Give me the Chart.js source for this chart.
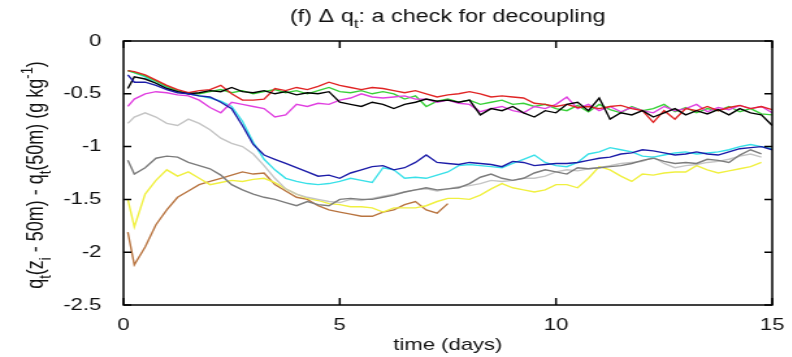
<!DOCTYPE html>
<html>
<head>
<meta charset="utf-8">
<script src="https://cdn.jsdelivr.net/npm/chart.js@4.4.1/dist/chart.umd.min.js"></script>
<style>
  html, body { margin: 0; padding: 0; background: #fff; overflow: hidden; }
  /* the reference is a stretched picture, so the whole chart is widened */
  #wrap { width: 609px; height: 357px; transform: scaleX(1.3); transform-origin: 0 0; }
</style>
</head>
<body>
<div id="wrap"><canvas id="chart" width="609" height="357"></canvas></div>
<script>
// time axis (days) shared by every run
const days = [0.1, 0.25, 0.5, 0.75, 1, 1.25, 1.5, 1.75, 2, 2.25,
    2.5, 2.75, 3, 3.25, 3.5, 3.75, 4, 4.25, 4.5, 4.75,
    5, 5.25, 5.5, 5.75, 6, 6.25, 6.5, 6.75, 7, 7.25,
    7.5, 7.75, 8, 8.25, 8.5, 8.75, 9, 9.25, 9.5, 9.75,
    10, 10.25, 10.5, 10.75, 11, 11.25, 11.5, 11.75, 12, 12.25,
    12.5, 12.75, 13, 13.25, 13.5, 13.75, 14, 14.25, 14.5, 14.75, 15];

const xTicks = [0, 5, 10, 15];
const yTicks = [0, -0.5, -1, -1.5, -2, -2.5];

const red = [-0.28,-0.29,-0.32,-0.37,-0.42,-0.46,-0.49,-0.47,-0.46,-0.42,
    -0.50,-0.56,-0.56,-0.55,-0.45,-0.47,-0.44,-0.46,-0.43,-0.39,
    -0.42,-0.44,-0.46,-0.44,-0.45,-0.47,-0.49,-0.47,-0.50,-0.53,
    -0.51,-0.50,-0.48,-0.50,-0.53,-0.52,-0.53,-0.54,-0.59,-0.60,
    -0.62,-0.60,-0.63,-0.62,-0.64,-0.62,-0.61,-0.64,-0.66,-0.77,
    -0.66,-0.74,-0.64,-0.66,-0.62,-0.66,-0.63,-0.61,-0.64,-0.62,-0.65];
const green = [-0.28,-0.30,-0.33,-0.38,-0.43,-0.47,-0.50,-0.50,-0.48,-0.46,
    -0.49,-0.47,-0.50,-0.48,-0.46,-0.49,-0.47,-0.50,-0.47,-0.44,
    -0.48,-0.49,-0.47,-0.50,-0.48,-0.50,-0.55,-0.52,-0.62,-0.57,
    -0.55,-0.58,-0.56,-0.60,-0.58,-0.56,-0.60,-0.59,-0.62,-0.60,
    -0.64,-0.66,-0.61,-0.67,-0.60,-0.65,-0.68,-0.62,-0.66,-0.64,
    -0.60,-0.67,-0.63,-0.68,-0.64,-0.66,-0.62,-0.67,-0.64,-0.69,-0.70];
const black = [-0.45,-0.34,-0.36,-0.40,-0.45,-0.48,-0.50,-0.49,-0.47,-0.48,
    -0.44,-0.48,-0.49,-0.47,-0.50,-0.48,-0.51,-0.49,-0.50,-0.48,
    -0.58,-0.60,-0.62,-0.58,-0.60,-0.64,-0.60,-0.58,-0.55,-0.57,
    -0.56,-0.58,-0.56,-0.70,-0.64,-0.66,-0.62,-0.68,-0.72,-0.66,
    -0.68,-0.60,-0.58,-0.66,-0.54,-0.74,-0.68,-0.70,-0.66,-0.72,
    -0.68,-0.64,-0.70,-0.66,-0.69,-0.65,-0.70,-0.64,-0.68,-0.70,-0.80];
const magenta = [-0.62,-0.55,-0.50,-0.48,-0.49,-0.51,-0.52,-0.56,-0.63,-0.68,
    -0.58,-0.60,-0.62,-0.64,-0.72,-0.70,-0.60,-0.62,-0.59,-0.60,
    -0.56,-0.54,-0.50,-0.53,-0.54,-0.53,-0.52,-0.55,-0.55,-0.58,
    -0.56,-0.59,-0.60,-0.67,-0.64,-0.62,-0.66,-0.68,-0.62,-0.64,
    -0.60,-0.53,-0.64,-0.60,-0.66,-0.62,-0.67,-0.63,-0.66,-0.68,
    -0.62,-0.66,-0.64,-0.60,-0.67,-0.63,-0.65,-0.61,-0.64,-0.62,-0.68];
const blue = [-0.32,-0.39,-0.39,-0.42,-0.46,-0.49,-0.50,-0.52,-0.53,-0.58,
    -0.64,-0.80,-0.98,-1.08,-1.12,-1.16,-1.20,-1.24,-1.28,-1.27,
    -1.30,-1.25,-1.22,-1.19,-1.18,-1.22,-1.20,-1.15,-1.08,-1.15,
    -1.16,-1.17,-1.15,-1.16,-1.17,-1.19,-1.14,-1.15,-1.18,-1.17,
    -1.16,-1.16,-1.15,-1.13,-1.11,-1.10,-1.07,-1.06,-1.03,-1.04,
    -1.06,-1.08,-1.07,-1.05,-1.07,-1.08,-1.05,-1.02,-1.01,-1.00,-1.03];
const cyan = [-0.28,-0.30,-0.34,-0.40,-0.44,-0.48,-0.50,-0.52,-0.54,-0.57,
    -0.62,-0.76,-0.96,-1.12,-1.22,-1.30,-1.33,-1.35,-1.36,-1.35,
    -1.33,-1.30,-1.32,-1.34,-1.20,-1.22,-1.30,-1.29,-1.30,-1.27,
    -1.24,-1.18,-1.17,-1.18,-1.19,-1.20,-1.16,-1.12,-1.08,-1.15,
    -1.18,-1.19,-1.15,-1.07,-1.05,-1.01,-1.03,-1.05,-1.09,-1.10,
    -1.08,-1.06,-1.05,-1.07,-1.06,-1.05,-1.03,-1.00,-0.98,-1.00,-1.02];
const silver = [-0.78,-0.72,-0.68,-0.72,-0.78,-0.80,-0.74,-0.78,-0.84,-0.92,
    -0.97,-1.00,-1.07,-1.18,-1.30,-1.40,-1.45,-1.48,-1.50,-1.52,
    -1.53,-1.50,-1.51,-1.49,-1.47,-1.45,-1.43,-1.41,-1.40,-1.42,
    -1.40,-1.38,-1.37,-1.35,-1.32,-1.33,-1.32,-1.30,-1.30,-1.28,
    -1.24,-1.22,-1.23,-1.21,-1.20,-1.18,-1.16,-1.15,-1.14,-1.10,
    -1.16,-1.20,-1.18,-1.17,-1.15,-1.14,-1.12,-1.09,-1.07,-1.10];
const darkgray = [-1.13,-1.26,-1.20,-1.11,-1.09,-1.10,-1.15,-1.18,-1.21,-1.27,
    -1.36,-1.41,-1.45,-1.48,-1.50,-1.53,-1.56,-1.52,-1.55,-1.56,
    -1.50,-1.49,-1.50,-1.50,-1.48,-1.46,-1.43,-1.41,-1.39,-1.41,
    -1.40,-1.39,-1.35,-1.29,-1.26,-1.30,-1.32,-1.30,-1.25,-1.22,
    -1.24,-1.26,-1.20,-1.21,-1.20,-1.19,-1.18,-1.16,-1.13,-1.11,
    -1.14,-1.16,-1.15,-1.16,-1.12,-1.13,-1.15,-1.08,-1.03,-1.07];
const yellow = [-1.50,-1.76,-1.45,-1.32,-1.22,-1.28,-1.24,-1.30,-1.36,-1.34,
    -1.32,-1.33,-1.31,-1.30,-1.34,-1.40,-1.45,-1.49,-1.51,-1.54,
    -1.55,-1.57,-1.57,-1.58,-1.62,-1.58,-1.58,-1.58,-1.56,-1.52,
    -1.49,-1.49,-1.50,-1.46,-1.40,-1.35,-1.39,-1.41,-1.43,-1.41,
    -1.36,-1.36,-1.39,-1.30,-1.19,-1.22,-1.28,-1.33,-1.26,-1.27,
    -1.25,-1.24,-1.24,-1.18,-1.22,-1.25,-1.23,-1.21,-1.19,-1.15];
const brown = [-1.81,-2.12,-1.95,-1.74,-1.60,-1.48,-1.42,-1.36,-1.33,-1.30,
    -1.27,-1.24,-1.26,-1.25,-1.36,-1.42,-1.48,-1.50,-1.56,-1.60,
    -1.62,-1.64,-1.66,-1.66,-1.62,-1.60,-1.55,-1.52,-1.60,-1.63,
    -1.54];

const FONT = 'Liberation Sans, Arial, Helvetica, sans-serif';

function series(values, color) {
    return {
        data: values.map((v, i) => ({ x: days[i], y: v })),
        borderColor: color,
        borderWidth: 1.4,
        pointRadius: 0,
        tension: 0,
        fill: false
    };
}

// text with sub/superscripts, drawn centred on (0,0) of the current transform
function drawRich(ctx, parts, size) {
    const small = Math.round(size * 0.72);
    let total = 0;
    parts.forEach(p => {
        ctx.font = (p[1] ? small : size) + 'px ' + FONT;
        p.w = ctx.measureText(p[0]).width;
        total += p.w;
    });
    let x = -total / 2;
    ctx.textAlign = 'left';
    ctx.textBaseline = 'alphabetic';
    parts.forEach(p => {
        ctx.font = (p[1] ? small : size) + 'px ' + FONT;
        let dy = 0;
        if (p[1] === 'sub') dy = size * 0.32;
        if (p[1] === 'sup') dy = -size * 0.42;
        ctx.fillText(p[0], x, dy);
        x += p.w;
    });
}

const framePlugin = {
    id: 'frame',
    afterDatasetsDraw(chart) {
        const { ctx, chartArea: a, scales } = chart;
        ctx.save();
        ctx.strokeStyle = '#000';
        ctx.lineWidth = 1.5;
        ctx.strokeRect(a.left, a.top, a.right - a.left, a.bottom - a.top);
        ctx.beginPath();
        scales.x.ticks.forEach(t => {
            const px = scales.x.getPixelForValue(t.value);
            ctx.moveTo(px, a.bottom); ctx.lineTo(px, a.bottom - 7);
            ctx.moveTo(px, a.top); ctx.lineTo(px, a.top + 7);
        });
        scales.y.ticks.forEach(t => {
            const py = scales.y.getPixelForValue(t.value);
            ctx.moveTo(a.left, py); ctx.lineTo(a.left + 6, py);
            ctx.moveTo(a.right, py); ctx.lineTo(a.right - 6, py);
        });
        ctx.stroke();
        ctx.restore();
    },
    afterDraw(chart) {
        const { ctx, chartArea: a } = chart;
        const cx = (a.left + a.right) / 2;
        ctx.save();
        ctx.fillStyle = '#111';
        // title
        ctx.save();
        ctx.translate(cx, 22);
        drawRich(ctx, [['(f) \u0394 q'], ['t', 'sub'], [': a check for decoupling']], 18);
        ctx.restore();
        // x label
        ctx.save();
        ctx.translate(cx, 350);
        drawRich(ctx, [['time (days)']], 17);
        ctx.restore();
        // y label
        ctx.save();
        ctx.translate(33, 175);
        ctx.rotate(-Math.PI / 2);
        drawRich(ctx, [['q'], ['t', 'sub'], ['(z'], ['i', 'sub'], [' - 50m) - q'], ['t', 'sub'],
            ['(50m) (g kg'], ['-1', 'sup'], [')']], 18);
        ctx.restore();
        ctx.restore();
    }
};

new Chart(document.getElementById('chart'), {
    type: 'line',
    data: {
        datasets: [
            series(blue, '#1c1ca8'),
            series(black, '#000000'),
            series(red, '#e02424'),
            series(magenta, '#e040e0'),
            series(green, '#38d038'),
            series(cyan, '#38e0e8'),
            series(darkgray, '#7c7c7c'),
            series(silver, '#c4c4c4'),
            series(yellow, '#f0f040'),
            series(brown, '#b87440')
        ]
    },
    options: {
        responsive: false,
        animation: false,
        devicePixelRatio: 1,
        layout: { padding: { left: 0, right: 15, top: 41, bottom: 0 } },
        plugins: { legend: { display: false }, tooltip: { enabled: false }, title: { display: false } },
        scales: {
            x: {
                type: 'linear', min: 0, max: 15,
                grid: { display: false }, border: { display: false },
                afterBuildTicks: s => { s.ticks = xTicks.map(v => ({ value: v })); },
                afterFit: s => { s.height = 52; },
                ticks: { color: '#111', padding: 2, maxRotation: 0, font: { family: FONT, size: 17 },
                    callback: v => String(v) }
            },
            y: {
                min: -2.5, max: 0,
                grid: { display: false }, border: { display: false },
                afterBuildTicks: s => { s.ticks = yTicks.map(v => ({ value: v })); },
                afterFit: s => { s.width = 95; },
                ticks: { color: '#111', padding: 9, font: { family: FONT, size: 17 },
                    callback: v => String(v) }
            }
        }
    },
    plugins: [framePlugin]
});
</script>
</body>
</html>
